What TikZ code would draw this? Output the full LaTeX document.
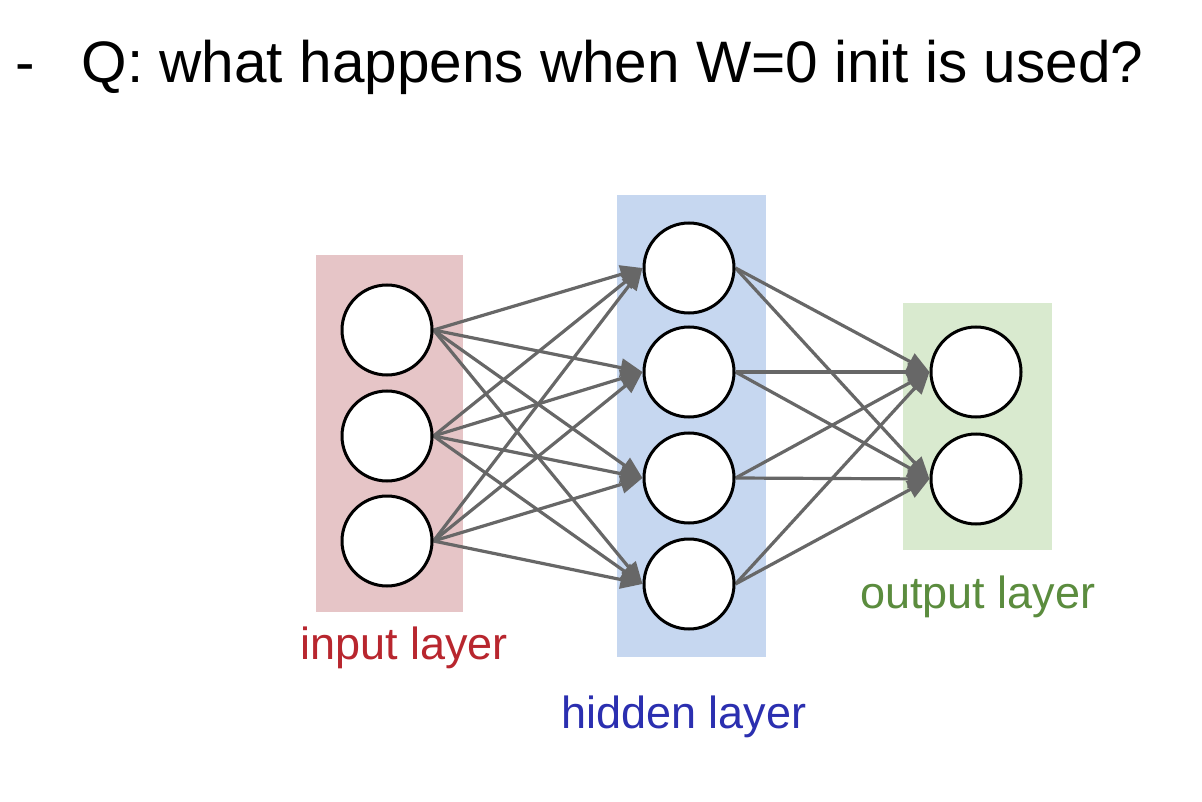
\documentclass[tikz,border=0pt]{standalone}
\usepackage{fontspec}
\setmainfont{Liberation Sans}
\usetikzlibrary{arrows.meta}
\pgfdeclarelayer{bg}
\pgfdeclarelayer{edges}
\pgfsetlayers{bg,edges,main}
\definecolor{inbg}{HTML}{E6C5C7}
\definecolor{hidbg}{HTML}{C6D7F0}
\definecolor{outbg}{HTML}{D9EACF}
\definecolor{inred}{HTML}{B8262E}
\definecolor{hidblue}{HTML}{2B2FB0}
\definecolor{outgreen}{HTML}{5B8C3E}
\definecolor{edgegray}{HTML}{676767}
\tikzset{
  neuron/.style={circle, draw=black, line width=3pt, fill=white, minimum size=90pt, inner sep=0pt},
  conn/.style={draw=edgegray, line width=3.2pt, -{Triangle[length=22pt,width=18pt]}},
  layerlbl/.style={anchor=base west, inner sep=0pt, font=\fontsize{45}{48}\selectfont},
}
\begin{document}
\begin{tikzpicture}[x=1pt,y=-1pt]
\useasboundingbox (0,0) rectangle (1202,802);
\begin{pgfonlayer}{bg}
\fill[white] (0,0) rectangle (1202,802);
\fill[inbg] (316,255) rectangle (463,612);
\fill[hidbg] (617,195) rectangle (766,657);
\fill[outbg] (903,303) rectangle (1052,550);
\end{pgfonlayer}
% title
\node[anchor=base west, inner sep=0pt, font=\fontsize{58.5}{62}\selectfont] (title) at (15,83) {-\hspace{47pt}Q: what happens when W=0 init is used?};
% neurons
\node[neuron] (i1) at (387,330) {};
\node[neuron] (i2) at (387,436) {};
\node[neuron] (i3) at (387,541) {};
\node[neuron] (h1) at (689,268) {};
\node[neuron] (h2) at (689,372) {};
\node[neuron] (h3) at (689,478) {};
\node[neuron] (h4) at (689,584) {};
\node[neuron] (o1) at (976,372) {};
\node[neuron] (o2) at (976,479) {};
% connections
\begin{pgfonlayer}{edges}
\foreach \a in {i1,i2,i3}{
  \foreach \b in {h1,h2,h3,h4}{
    \draw[conn] (\a.east) -- (\b.west);
  }
}
\foreach \a in {h1,h2,h3,h4}{
  \foreach \b in {o1,o2}{
    \draw[conn] (\a.east) -- (\b.west);
  }
}
\end{pgfonlayer}
% labels
\node[layerlbl, text=inred] (lin) at (300,659) {input layer};
\node[layerlbl, text=hidblue] (lhid) at (561,728) {hidden layer};
\node[layerlbl, text=outgreen] (lout) at (860,608) {output layer};
\end{tikzpicture}
\end{document}
